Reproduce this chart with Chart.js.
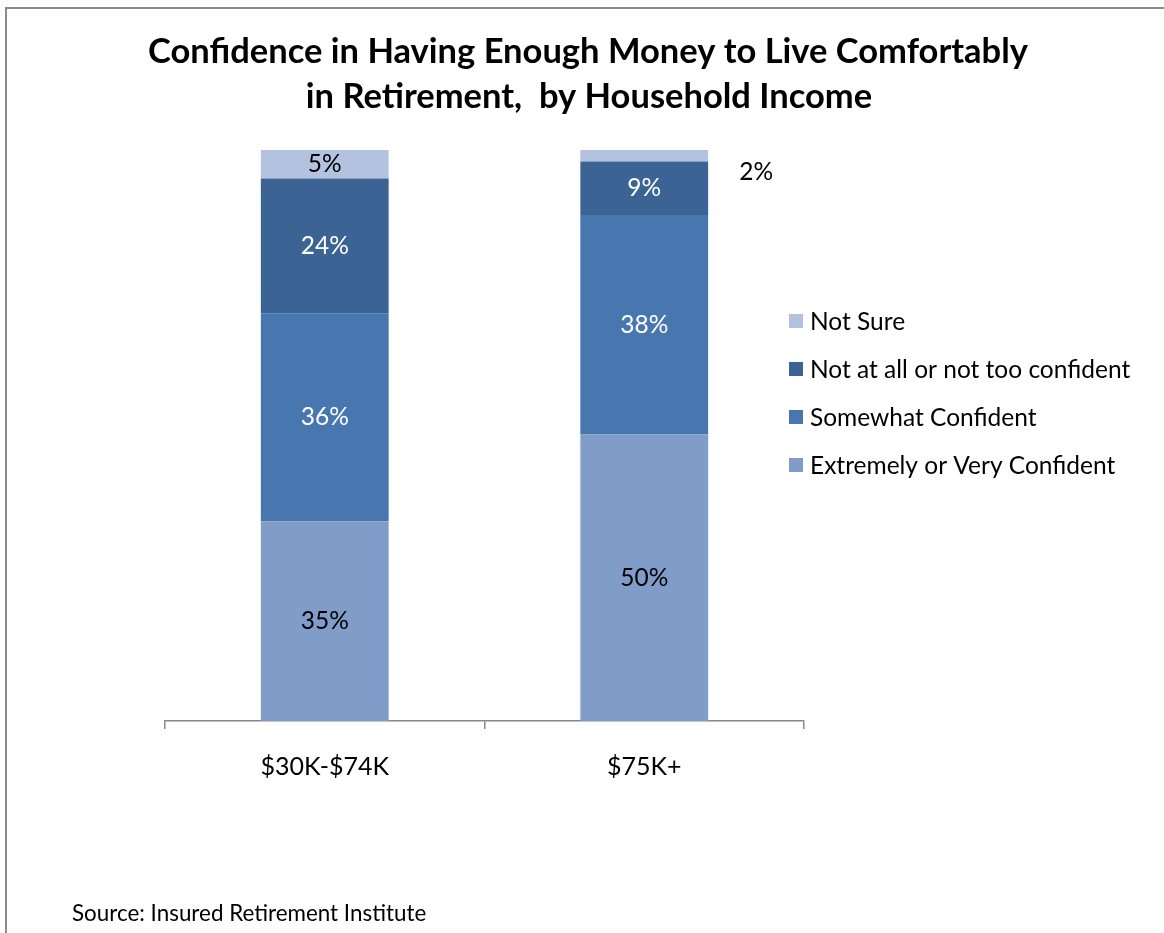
<!DOCTYPE html>
<html>
<head>
<meta charset="utf-8">
<script src="https://cdn.jsdelivr.net/npm/chart.js@4.4.1/dist/chart.umd.min.js"></script>
<style>
  html, body { margin: 0; padding: 0; background: #fff; }
  #wrap { width: 1164px; height: 933px; position: relative; }
</style>
</head>
<body>
<div id="wrap"><canvas id="c" width="1164" height="933"></canvas></div>
<script>
// ---- Data ----
const categories = ['$30K-$74K', '$75K+'];
const seriesNames = ['Extremely or Very Confident', 'Somewhat Confident', 'Not at all or not too confident', 'Not Sure'];
const extremelyConfident = [35.0, 50.2];
const somewhatConfident = [36.4, 38.4];
const notConfident = [23.6, 9.4];
const notSure = [5.0, 2.0];
const titleLines = ['Confidence in Having Enough Money to Live Comfortably', 'in Retirement,  by Household Income'];
const sourceText = 'Source: Insured Retirement Institute';

const colors = ['#7F9DC8', '#4877B0', '#3B6494', '#B3C3DF'];
const labelColors = ['#000000', '#FFFFFF', '#FFFFFF', '#000000'];
const FONT = 'Lato, "Open Sans", sans-serif';

const seriesData = [extremelyConfident, somewhatConfident, notConfident, notSure];

const decorPlugin = {
  id: 'decor',
  beforeDraw(chart) {
    const ctx = chart.ctx;
    ctx.save();
    ctx.fillStyle = '#8a8a8a';
    ctx.fillRect(5, 7, chart.width - 5, 2);
    ctx.fillRect(5, 7, 2, chart.height - 7);
    ctx.restore();
  },
  afterDraw(chart) {
    const ctx = chart.ctx;
    ctx.save();
    // Title
    ctx.fillStyle = '#000';
    ctx.textAlign = 'center';
    ctx.textBaseline = 'alphabetic';
    ctx.font = 'bold 34.5px ' + FONT;
    ctx.fillText(titleLines[0], 588, 63);
    ctx.fillText(titleLines[1], 589, 108);

    // Data labels
    ctx.font = '24.5px ' + FONT;
    ctx.textBaseline = 'middle';
    chart.data.datasets.forEach((ds, di) => {
      const meta = chart.getDatasetMeta(di);
      meta.data.forEach((bar, i) => {
        const v = ds.data[i];
        const txt = Math.round(v) + '%';
        const top = Math.min(bar.y, bar.base), bottom = Math.max(bar.y, bar.base);
        const h = bottom - top;
        if (h < 16) {
          ctx.fillStyle = '#000';
          ctx.textAlign = 'center';
          ctx.fillText(txt, bar.x + bar.width / 2 + 48, (top + bottom) / 2 + 16);
        } else {
          ctx.fillStyle = labelColors[di];
          ctx.textAlign = 'center';
          ctx.fillText(txt, bar.x, (top + bottom) / 2);
        }
      });
    });

    // Legend (top item = last series)
    ctx.textAlign = 'left';
    ctx.textBaseline = 'middle';
    ctx.font = '24.5px ' + FONT;
    const legendX = 789, legendY0 = 321, legendStep = 48;
    for (let k = 0; k < seriesNames.length; k++) {
      const di = seriesNames.length - 1 - k;
      const y = legendY0 + k * legendStep;
      ctx.fillStyle = colors[di];
      ctx.fillRect(legendX, y - 7, 14, 14);
      ctx.fillStyle = '#000';
      ctx.fillText(seriesNames[di], legendX + 21, y + 1);
    }

    // Source
    ctx.font = '22.4px ' + FONT;
    ctx.fillStyle = '#000';
    ctx.fillText(sourceText, 72, 914);
    ctx.restore();
  }
};

new Chart(document.getElementById('c'), {
  type: 'bar',
  data: {
    labels: categories,
    datasets: seriesNames.map((name, i) => ({
      label: name,
      data: seriesData[i],
      backgroundColor: colors[i],
      borderWidth: 0,
      barPercentage: 0.4,
      categoryPercentage: 1.0
    }))
  },
  options: {
    responsive: false,
    animation: false,
    devicePixelRatio: 1,
    layout: { padding: { left: 165, right: 360, top: 150, bottom: 128 } },
    plugins: {
      legend: { display: false },
      title: { display: false },
      tooltip: { enabled: false }
    },
    scales: {
      x: {
        stacked: true,
        grid: { display: true, drawOnChartArea: false, drawTicks: true, tickLength: 8, color: '#888888', lineWidth: 1.5, offset: true },
        border: { display: true, color: '#888888', width: 1.5 },
        ticks: { color: '#000', font: { family: FONT, size: 25 }, padding: 23, maxRotation: 0 }
      },
      y: {
        stacked: true,
        display: false,
        min: 0,
        max: 100
      }
    }
  },
  plugins: [decorPlugin]
});
</script>
</body>
</html>
